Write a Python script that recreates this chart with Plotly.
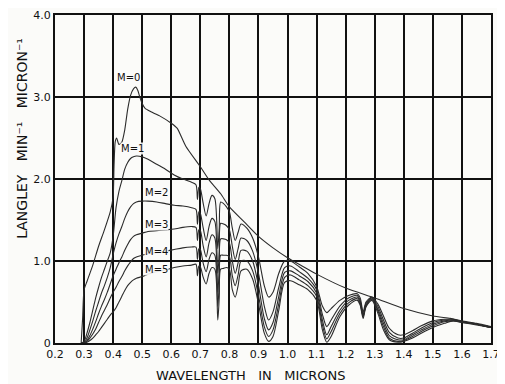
import plotly.graph_objects as go

# ---------------- data ----------------
wl_m0 = [0.29, 0.295, 0.30, 0.31, 0.33, 0.35, 0.37, 0.39, 0.40, 0.403, 0.407, 0.412, 0.42, 0.43,
         0.44, 0.45, 0.46, 0.47, 0.478, 0.485, 0.49, 0.50, 0.51, 0.53, 0.56, 0.60, 0.62, 0.65,
         0.70, 0.73, 0.77, 0.80, 0.85, 0.90, 0.95, 1.00, 1.05, 1.10, 1.20, 1.30, 1.40, 1.50,
         1.56, 1.60, 1.65, 1.70]
m0 = [0, 0.3, 0.65, 0.75, 0.95, 1.18, 1.38, 1.60, 1.78, 2.15, 2.45, 2.50, 2.42, 2.45,
      2.6, 2.85, 3.02, 3.10, 3.12, 3.08, 3.02, 2.92, 2.86, 2.82, 2.77, 2.68, 2.62, 2.40,
      2.15, 1.99, 1.82, 1.66, 1.48, 1.30, 1.16, 1.04, 0.94, 0.84, 0.67, 0.55, 0.42, 0.33,
      0.30, 0.27, 0.24, 0.20]

wl = [0.29, 0.30, 0.31, 0.32, 0.33, 0.34, 0.35, 0.36, 0.37, 0.38, 0.39, 0.40, 0.41, 0.42,
      0.43, 0.44, 0.45, 0.46, 0.47, 0.48, 0.50, 0.52, 0.55, 0.58, 0.61, 0.64, 0.67, 0.685,
      0.69, 0.695, 0.70, 0.71, 0.72, 0.73, 0.74, 0.75, 0.76, 0.765, 0.77, 0.78, 0.79, 0.80,
      0.81, 0.82, 0.83, 0.84, 0.86, 0.88, 0.90, 0.92, 0.935, 0.95, 0.97, 0.99, 1.01, 1.04,
      1.07, 1.10, 1.12, 1.135, 1.15, 1.18, 1.21, 1.24, 1.25, 1.26, 1.27, 1.29, 1.31, 1.33,
      1.35, 1.38, 1.40, 1.43, 1.46, 1.50, 1.54, 1.57, 1.60, 1.65, 1.70]

m1 = [0, 0.02, 0.12, 0.25, 0.40, 0.55, 0.68, 0.80, 0.90, 1.00, 1.10, 1.30, 1.65, 1.85,
      1.98, 2.12, 2.20, 2.25, 2.27, 2.28, 2.27, 2.24, 2.18, 2.12, 2.05, 2.00, 1.96, 1.93,
      1.75, 1.90, 1.88, 1.70, 1.55, 1.70, 1.80, 1.76, 1.15, 1.40, 1.72, 1.70, 1.66, 1.60,
      1.40, 1.25, 1.35, 1.45, 1.40, 1.28, 1.05, 0.70, 0.56, 0.62, 0.85, 1.00, 1.00, 0.93,
      0.85, 0.69, 0.45, 0.37, 0.42, 0.52, 0.58, 0.60, 0.55, 0.38, 0.50, 0.56, 0.48, 0.33,
      0.18, 0.10, 0.10, 0.15, 0.21, 0.27, 0.29, 0.29, 0.26, 0.23, 0.19]
m2 = [0, 0, 0.06, 0.16, 0.27, 0.39, 0.50, 0.61, 0.70, 0.80, 0.92, 1.08, 1.22, 1.33,
      1.42, 1.52, 1.60, 1.66, 1.70, 1.72, 1.73, 1.73, 1.72, 1.70, 1.68, 1.67, 1.65, 1.63,
      1.45, 1.60, 1.58, 1.40, 1.25, 1.42, 1.52, 1.48, 0.85, 1.10, 1.46, 1.45, 1.43, 1.38,
      1.18, 1.02, 1.15, 1.28, 1.25, 1.12, 0.85, 0.45, 0.28, 0.38, 0.68, 0.92, 0.94, 0.87,
      0.79, 0.65, 0.35, 0.20, 0.28, 0.45, 0.55, 0.58, 0.52, 0.35, 0.48, 0.55, 0.45, 0.28,
      0.13, 0.06, 0.06, 0.12, 0.18, 0.25, 0.28, 0.28, 0.26, 0.23, 0.19]
m3 = [0, 0, 0.03, 0.09, 0.17, 0.26, 0.36, 0.45, 0.53, 0.62, 0.72, 0.82, 0.90, 0.98,
      1.05, 1.13, 1.20, 1.26, 1.30, 1.32, 1.34, 1.36, 1.37, 1.38, 1.39, 1.41, 1.42, 1.41,
      1.25, 1.38, 1.37, 1.18, 1.05, 1.22, 1.32, 1.28, 0.62, 0.90, 1.27, 1.27, 1.26, 1.22,
      1.00, 0.85, 0.98, 1.13, 1.12, 1.00, 0.70, 0.30, 0.16, 0.25, 0.57, 0.86, 0.88, 0.82,
      0.75, 0.61, 0.28, 0.10, 0.20, 0.40, 0.52, 0.56, 0.50, 0.33, 0.46, 0.54, 0.42, 0.24,
      0.09, 0.04, 0.04, 0.10, 0.16, 0.23, 0.27, 0.28, 0.26, 0.23, 0.19]
m4 = [0, 0, 0.02, 0.06, 0.11, 0.17, 0.25, 0.33, 0.40, 0.47, 0.55, 0.62, 0.68, 0.75,
      0.81, 0.88, 0.94, 0.99, 1.03, 1.05, 1.07, 1.09, 1.10, 1.12, 1.14, 1.16, 1.17, 1.17,
      1.02, 1.15, 1.14, 0.97, 0.87, 1.02, 1.10, 1.07, 0.45, 0.72, 1.07, 1.07, 1.07, 1.05,
      0.82, 0.70, 0.83, 1.00, 1.00, 0.88, 0.58, 0.20, 0.08, 0.16, 0.48, 0.80, 0.83, 0.77,
      0.70, 0.57, 0.22, 0.05, 0.14, 0.36, 0.49, 0.54, 0.48, 0.32, 0.45, 0.53, 0.40, 0.20,
      0.06, 0.02, 0.03, 0.08, 0.14, 0.21, 0.26, 0.27, 0.25, 0.23, 0.19]
m5 = [0, 0, 0.01, 0.03, 0.06, 0.10, 0.14, 0.19, 0.24, 0.29, 0.34, 0.38, 0.43, 0.50,
      0.57, 0.64, 0.70, 0.74, 0.77, 0.79, 0.81, 0.84, 0.87, 0.89, 0.92, 0.94, 0.95, 0.96,
      0.82, 0.94, 0.93, 0.80, 0.72, 0.85, 0.92, 0.90, 0.28, 0.55, 0.90, 0.91, 0.92, 0.90,
      0.65, 0.56, 0.70, 0.88, 0.90, 0.78, 0.48, 0.12, 0.02, 0.08, 0.40, 0.74, 0.76, 0.71,
      0.65, 0.52, 0.16, 0.01, 0.08, 0.32, 0.46, 0.52, 0.46, 0.30, 0.44, 0.52, 0.37, 0.16,
      0.04, 0.01, 0.02, 0.06, 0.12, 0.19, 0.24, 0.27, 0.25, 0.22, 0.19]

x_ticks = [0.2, 0.3, 0.4, 0.5, 0.6, 0.7, 0.8, 0.9, 1.0, 1.1, 1.2, 1.3, 1.4, 1.5, 1.6, 1.7]
x_tick_text = ["0.2", "0.3", "0.4", "0.5", "0.6", "0.7", "0.8", "0.9", "1.0", "1.1",
               "1.2", "1.3", "1.4", "1.5", "1.6", "1.7"]
y_ticks = [0, 1, 2, 3, 4]
y_tick_text = ["0", "1.0", "2.0", "3.0", "4.0"]

labels = ["M=0", "M=1", "M=2", "M=3", "M=4", "M=5"]
label_x = [0.452, 0.466, 0.548, 0.548, 0.548, 0.548]
label_y = [3.24, 2.37, 1.84, 1.44, 1.12, 0.90]

x_title = "WAVELENGTH   IN   MICRONS"
y_title = "LANGLEY   MIN⁻¹   MICRON⁻¹"

# ---------------- figure ----------------
INK = "#2b2b2b"
FONT = "DejaVu Sans"
BG = "#fbfbf9"

fig = go.Figure()
fig.add_trace(go.Scatter(x=wl_m0, y=m0, mode="lines", line=dict(color=INK, width=1.1),
                         line_shape="spline", line_smoothing=0.6,
                         showlegend=False, hoverinfo="skip"))
for series in [m1, m2, m3, m4, m5]:
    fig.add_trace(go.Scatter(x=wl, y=series, mode="lines", line=dict(color=INK, width=1.1),
                             line_shape="spline", line_smoothing=0.8,
                             showlegend=False, hoverinfo="skip"))

for t, lx, ly in zip(labels, label_x, label_y):
    fig.add_annotation(x=lx, y=ly, text=t, showarrow=False,
                       font=dict(family=FONT, size=10, color="#111"),
                       bgcolor="rgba(251,251,249,0.9)", borderpad=0)

fig.add_annotation(xref="paper", yref="paper", x=0.45, y=-0.098, text=x_title.replace(" ", "&nbsp;"),
                   showarrow=False, font=dict(family=FONT, size=13, color="#111"),
                   xanchor="center", yanchor="middle", borderpad=0)
fig.add_annotation(xref="paper", yref="paper", x=-0.076, y=0.625, text=y_title.replace(" ", "&nbsp;"),
                   showarrow=False, textangle=-90, font=dict(family=FONT, size=14, color="#111"),
                   xanchor="center", yanchor="middle")

fig.update_xaxes(range=[0.2, 1.7], tickvals=x_ticks, ticktext=x_tick_text,
                 showgrid=True, gridcolor="#111", gridwidth=1.6,
                 showline=True, linecolor="#111", linewidth=2, mirror=True,
                 ticks="", zeroline=False, automargin=False,
                 tickfont=dict(family=FONT, size=11, color="#111"))
fig.update_yaxes(range=[0, 4], tickvals=y_ticks, ticktext=y_tick_text,
                 showgrid=True, gridcolor="#111", gridwidth=1.6,
                 showline=True, linecolor="#111", linewidth=2, mirror=True,
                 ticks="", zeroline=False, automargin=False,
                 tickfont=dict(family=FONT, size=11, color="#111"))

# the page body adds ~8px offset; size the figure so the plot lands where the reference has it
fig.update_layout(width=497, height=376,
                  margin=dict(l=47, r=14, t=7, b=41, autoexpand=False),
                  paper_bgcolor=BG, plot_bgcolor=BG)

fig.write_html("out.html")
